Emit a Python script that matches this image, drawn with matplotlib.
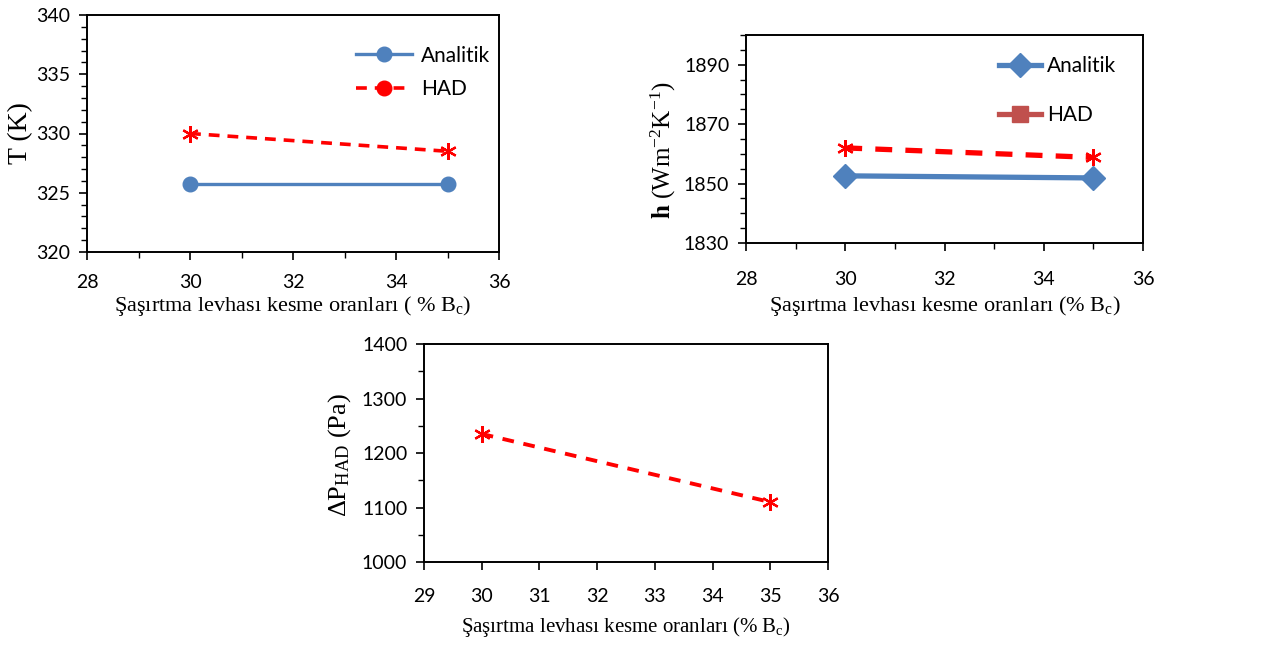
import matplotlib
matplotlib.use("Agg")
import matplotlib.pyplot as plt
from matplotlib.lines import Line2D
from matplotlib.ticker import MultipleLocator

# ---- data ----
x_cut = [30, 35]
T_analitik = [325.7, 325.7]
T_had = [330.0, 328.5]
h_analitik = [1852.6, 1851.9]
h_had = [1862.0, 1858.8]
dP_had = [1235, 1110]

xlabel1 = "Şaşırtma levhası kesme oranları ( % B$_\\mathregular{c}$)"
xlabel2 = "Şaşırtma levhası kesme oranları (% B$_\\mathregular{c}$)"

plt.rcParams['mathtext.fontset'] = 'custom'
plt.rcParams['mathtext.rm'] = 'Liberation Serif'
plt.rcParams['mathtext.it'] = 'Liberation Serif:italic'
plt.rcParams['mathtext.bf'] = 'Liberation Serif:bold'

BLUE = '#4F81BD'
RED = '#FF0000'
DRED = '#C0504D'
TICKFONT = 'Lato'
SERIF = 'Liberation Serif'

W, H = 1276, 646
fig = plt.figure(figsize=(W / 100, H / 100), dpi=100)

def add_ax(l, t, r, b):
    ax = fig.add_axes([l / W, 1 - b / H, (r - l) / W, (b - t) / H])
    ax._box = (l, t, r, b)
    return ax

def place_labels(ax, xl_y, yl_x, yl_y):
    l, t, r, b = ax._box
    ax.xaxis.set_label_coords(0.5, -(xl_y - b) / (b - t))
    ax.xaxis.label.set_va('center')
    ax.yaxis.set_label_coords((yl_x - l) / (r - l), (b - yl_y) / (b - t))
    ax.yaxis.label.set_va('center')

def style(ax, xpad=12):
    for s in ax.spines.values():
        s.set_color('black')
        s.set_linewidth(1.4)
    ax.tick_params(axis='both', which='major', direction='out', length=6, width=1.2,
                   labelsize=14, colors='black')
    ax.tick_params(axis='x', which='major', pad=xpad)
    ax.tick_params(axis='y', which='major', pad=6)
    ax.tick_params(axis='both', which='minor', direction='out', length=4, width=1.0)
    for lab in ax.get_xticklabels() + ax.get_yticklabels():
        lab.set_fontfamily(TICKFONT)

star = (6, 2, 0)

# Panel 1
ax1 = add_ax(87, 15, 499, 252)
ax1.plot(x_cut, T_analitik, color=BLUE, lw=2.4, marker='o', ms=10.5, label='Analitik')
ax1.plot(x_cut, T_had, color=RED, lw=2.6, ls=(0, (3, 2.2)), marker=star, ms=12, mew=1.6,
         mec=RED, label='HAD')
ax1.set_xlim(28, 36)
ax1.set_ylim(320, 340)
ax1.xaxis.set_major_locator(MultipleLocator(2))
ax1.xaxis.set_minor_locator(MultipleLocator(1))
ax1.yaxis.set_major_locator(MultipleLocator(5))
ax1.yaxis.set_minor_locator(MultipleLocator(1))
style(ax1, xpad=10)
ax1.set_ylabel("T (K)", fontfamily=SERIF, fontsize=20)
ax1.set_xlabel(xlabel1, fontfamily=SERIF, fontsize=16)
place_labels(ax1, 306, 21, 133)
h1 = [Line2D([], [], color=BLUE, lw=2.4, marker='o', ms=10.5),
      Line2D([], [], color=RED, lw=2.6, ls=(0, (3, 2.2)), marker='o', ms=10.5)]
ax1.legend(h1, ['Analitik', 'HAD'], loc='upper right', bbox_to_anchor=(1.025, 0.95),
           frameon=False, prop={'family': TICKFONT, 'size': 15}, handlelength=2.7,
           handletextpad=0.45, labelspacing=0.65)

# Panel 2
ax2 = add_ax(746, 35, 1143, 243)
ax2.plot(x_cut, h_analitik, color=BLUE, lw=3.8, marker='D', ms=12, label='Analitik')
ax2.plot(x_cut, h_had, color=RED, lw=3.8, ls=(0, (3.2, 2.5)), marker=star, ms=12, mew=1.6,
         mec=RED, label='HAD')
ax2.set_xlim(28, 36)
ax2.set_ylim(1830, 1900)
ax2.xaxis.set_major_locator(MultipleLocator(2))
ax2.xaxis.set_minor_locator(MultipleLocator(1))
ax2.set_yticks([1830, 1850, 1870, 1890])
ax2.yaxis.set_minor_locator(MultipleLocator(5))
style(ax2, xpad=14)
ax2.set_ylabel("$\\mathbf{h}$ (Wm$^{\\mathregular{-2}}$K$^{\\mathregular{-1}}$)",
               fontfamily=SERIF, fontsize=18)
ax2.set_xlabel(xlabel2, fontfamily=SERIF, fontsize=16)
place_labels(ax2, 306, 663, 150)
h2 = [Line2D([], [], color=BLUE, lw=3.8, marker='D', ms=12),
      Line2D([], [], color=DRED, lw=3.8, marker='s', ms=11)]
ax2.legend(h2, ['Analitik', 'HAD'], loc='upper right', bbox_to_anchor=(0.98, 0.99),
           frameon=False, prop={'family': TICKFONT, 'size': 15}, handlelength=2.0,
           handletextpad=0.3, labelspacing=1.4)

# Panel 3
ax3 = add_ax(424, 344, 828, 562)
ax3.plot(x_cut, dP_had, color=RED, lw=2.8, ls=(0, (3, 2.5)), marker=star, ms=12, mew=1.6,
         mec=RED)
ax3.set_xlim(29, 36)
ax3.set_ylim(1000, 1400)
ax3.xaxis.set_major_locator(MultipleLocator(1))
ax3.yaxis.set_major_locator(MultipleLocator(100))
ax3.yaxis.set_minor_locator(MultipleLocator(50))
style(ax3, xpad=13)
ax3.set_ylabel("ΔP$_{\\mathregular{HAD}}$ (Pa)", fontfamily=SERIF, fontsize=19)
ax3.set_xlabel(xlabel2, fontfamily=SERIF, fontsize=15)
place_labels(ax3, 627, 340, 455)

fig.savefig("out.png", dpi=100)
